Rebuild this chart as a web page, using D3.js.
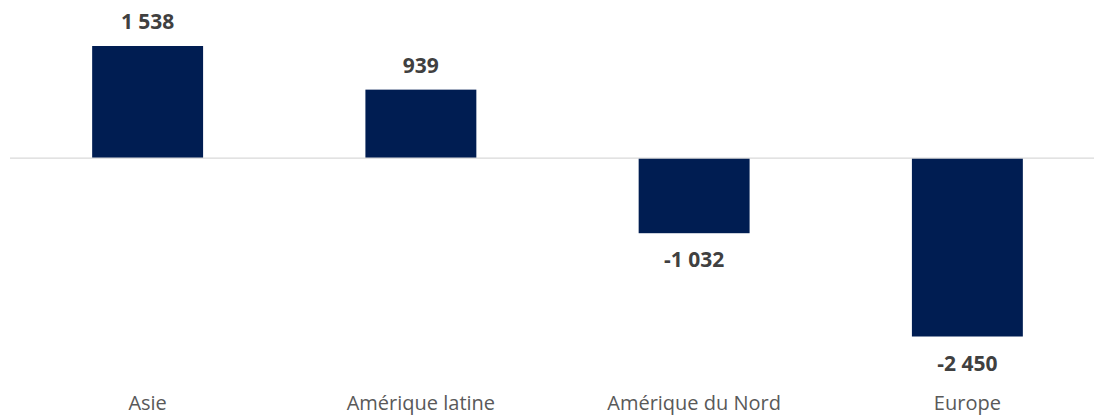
<!DOCTYPE html>
<html>
<head>
<meta charset="utf-8">
<script src="https://cdn.jsdelivr.net/npm/d3@7"></script>
<style>
  body { margin: 0; background: #fff; }
  svg { display: block; }
</style>
</head>
<body>
<svg id="chart" width="1094" height="416"></svg>
<script>
// Regions and their values
const regions = ["Asie", "Amérique latine", "Amérique du Nord", "Europe"];
const values = [1538, 939, -1032, -2450];

const data = regions.map((r, i) => ({ region: r, value: values[i] }));

const width = 1094, height = 416;
const svg = d3.select("#chart");

// x scale: one band per region
const x = d3.scaleBand()
    .domain(regions)
    .range([11, 1104])
    .paddingInner(0.594)
    .paddingOuter(0.297);

// y scale: positive up, negative down
const y = d3.scaleLinear()
    .domain([-2450, 1538])
    .range([336.5, 46]);

// bars
svg.selectAll("rect.bar")
    .data(data)
    .enter()
    .append("rect")
    .attr("class", "bar")
    .attr("x", d => x(d.region))
    .attr("y", d => Math.min(y(d.value), y(0)))
    .attr("width", x.bandwidth())
    .attr("height", d => Math.abs(y(d.value) - y(0)))
    .attr("fill", "#001d52");

// zero line
svg.append("line")
    .attr("x1", 10)
    .attr("x2", width)
    .attr("y1", y(0))
    .attr("y2", y(0))
    .attr("stroke", "#d9d9d9")
    .attr("stroke-width", 1.3);

// value labels
const fmt = v => (v < 0 ? "-" : "") + d3.format(",")(Math.abs(v)).replace(/,/g, " ");
svg.selectAll("text.value")
    .data(data)
    .enter()
    .append("text")
    .attr("class", "value")
    .attr("x", d => x(d.region) + x.bandwidth() / 2)
    .attr("y", d => d.value >= 0 ? y(d.value) - 17 : y(d.value) + 34)
    .attr("text-anchor", "middle")
    .style("font-family", "'Open Sans', sans-serif")
    .style("font-weight", 700)
    .style("font-size", "21px")
    .style("fill", "#404040")
    .text(d => fmt(d.value));

// category labels
svg.selectAll("text.cat")
    .data(regions)
    .enter()
    .append("text")
    .attr("class", "cat")
    .attr("x", d => x(d) + x.bandwidth() / 2)
    .attr("y", 410)
    .attr("text-anchor", "middle")
    .style("font-family", "'Open Sans', sans-serif")
    .style("font-size", "20px")
    .style("fill", "#595959")
    .text(d => d);
</script>
</body>
</html>
